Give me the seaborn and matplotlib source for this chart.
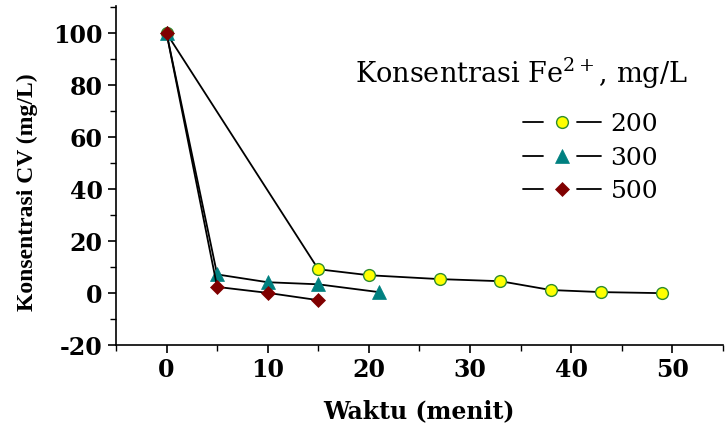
import numpy as np
import pandas as pd
import matplotlib
matplotlib.use("Agg")
import matplotlib.pyplot as plt
import seaborn as sns
from matplotlib.legend_handler import HandlerLine2D
from matplotlib.lines import Line2D
from matplotlib.ticker import MultipleLocator

# ---- data ----
t_200 = [0, 15, 20, 27, 33, 38, 43, 49]
c_200 = [100, 9.2, 6.9, 5.4, 4.6, 1.2, 0.4, 0.0]
t_300 = [0, 5, 10, 15, 21]
c_300 = [100, 7.2, 4.2, 3.4, 0.4]
t_500 = [0, 5, 10, 15]
c_500 = [100, 2.4, 0.1, -2.7]
labels = ["200", "300", "500"]

sns.set_theme(style="ticks")
plt.rcParams["font.family"] = ["DejaVu Serif"]
plt.rcParams["mathtext.fontset"] = "dejavuserif"
plt.rcParams["axes.unicode_minus"] = False
plt.rcParams["text.color"] = "black"
plt.rcParams["axes.labelcolor"] = "black"

fig = plt.figure(figsize=(7.25, 4.24), dpi=100)
ax = fig.add_axes([0.160, 0.186, 0.837, 0.800])

styles = [
    dict(marker="o", markersize=8.5, markerfacecolor="#FFFF00", markeredgecolor="#2E8B2E", markeredgewidth=1.0),
    dict(marker="^", markersize=9.5, markerfacecolor="#008080", markeredgecolor="#008080", markeredgewidth=0.5),
    dict(marker="D", markersize=7.2, markerfacecolor="#800000", markeredgecolor="#800000", markeredgewidth=0.5),
]
series = [(t_200, c_200), (t_300, c_300), (t_500, c_500)]
handles = []
for (tx, cy), st, lab in zip(series, styles, labels):
    df = pd.DataFrame({"t": tx, "c": cy})
    sns.lineplot(data=df, x="t", y="c", ax=ax, color="black", linewidth=1.3,
                 legend=False, **st)
    handles.append(Line2D([], [], color="black", linewidth=1.3, **st))

ax.set_xlim(-5, 55)
ax.set_ylim(-20, 110.5)
ax.xaxis.set_major_locator(MultipleLocator(10))
ax.xaxis.set_minor_locator(MultipleLocator(5))
ax.yaxis.set_major_locator(MultipleLocator(20))
ax.yaxis.set_minor_locator(MultipleLocator(10))
ax.set_xticks(np.arange(0, 51, 10))
ax.set_yticks(np.arange(-20, 101, 20))
sns.despine(ax=ax)
for s in ["left", "bottom"]:
    ax.spines[s].set_linewidth(1.2)
    ax.spines[s].set_color("black")
ax.tick_params(which="major", direction="out", length=6, width=1.2, colors="black",
               labelsize=17, labelcolor="black")
ax.tick_params(which="minor", direction="out", length=4, width=1.0, colors="black")
for lbl in ax.get_xticklabels() + ax.get_yticklabels():
    lbl.set_fontweight("bold")
    lbl.set_family("DejaVu Serif")

ax.set_xlabel("Waktu (menit)", fontsize=17, fontweight="bold", family="DejaVu Serif",
              labelpad=12, color="black")
ax.set_ylabel("Konsentrasi CV (mg/L)", fontsize=17, fontweight="bold",
              family="Liberation Serif", color="black")
ax.yaxis.set_label_coords(-0.128, 0.45)


class GapHandler(HandlerLine2D):
    def create_artists(self, legend, orig_handle, xdescent, ydescent, width, height,
                       fontsize, trans):
        y = height / 2.0 - ydescent
        x0 = -xdescent
        x1 = x0 + width
        xm = x0 + 0.5 * width
        l1 = Line2D([x0, x0 + 0.26 * width], [y, y], color="black", linewidth=1.3)
        l2 = Line2D([x1 - 0.30 * width, x1], [y, y], color="black", linewidth=1.3)
        m = Line2D([xm], [y], linestyle="none",
                   marker=orig_handle.get_marker(),
                   markersize=orig_handle.get_markersize(),
                   markerfacecolor=orig_handle.get_markerfacecolor(),
                   markeredgecolor=orig_handle.get_markeredgecolor(),
                   markeredgewidth=orig_handle.get_markeredgewidth())
        for a in (l1, l2, m):
            a.set_transform(trans)
        return [l1, l2, m]


leg = fig.legend(handles, labels, handler_map={Line2D: GapHandler()},
                 loc="upper left", bbox_to_anchor=(523 / 725, 1 - 113 / 424),
                 frameon=False, borderpad=0, borderaxespad=0,
                 handlelength=3.1, handletextpad=0.4, labelspacing=0.42,
                 prop={"family": "DejaVu Serif", "size": 18})
for txt in leg.get_texts():
    txt.set_color("black")

fig.text(355 / 725, 1 - 83 / 424, r"Konsentrasi Fe$^{\mathrm{2+}}$, mg/L",
         fontsize=19.5, family="DejaVu Serif", ha="left", va="baseline", color="black")

fig.savefig("out.png", dpi=100)
